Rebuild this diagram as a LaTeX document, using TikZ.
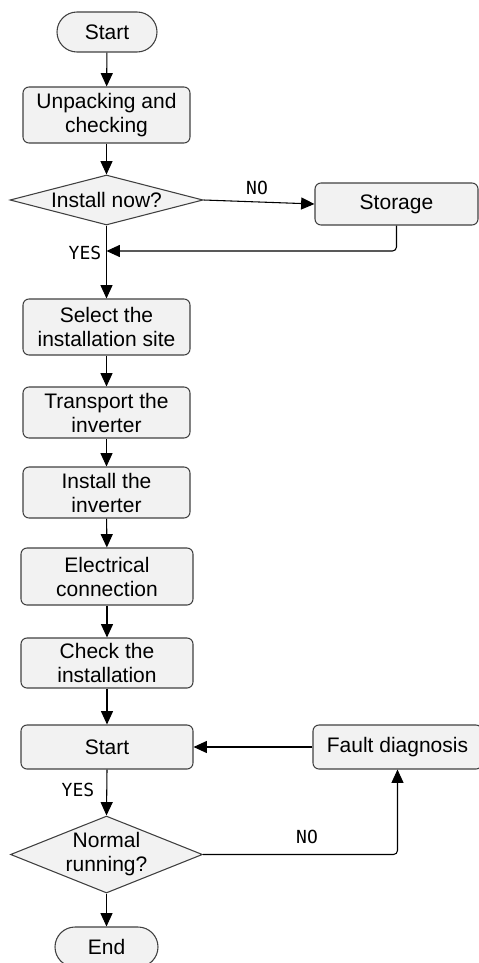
\documentclass[tikz,border=0pt]{standalone}
\usepackage{fontspec}
\setmainfont{Liberation Sans}
\newfontfamily\lblfont{DejaVu Sans Mono}
\usetikzlibrary{shapes.geometric,arrows.meta}
\definecolor{boxfill}{HTML}{F2F2F2}
\definecolor{linec}{HTML}{404040}
\begin{document}
\begin{tikzpicture}[x=0.75pt,y=-0.75pt,
  wh/.style 2 args={minimum width=#1*0.75pt, minimum height=#2*0.75pt},
  box/.style={draw=linec, fill=boxfill, line width=0.8pt, rounded corners=4.5pt, align=center, inner sep=0pt, font=\fontsize{15.75}{18}\selectfont},
  term/.style={box, rounded corners=15pt},
  dia/.style={draw=linec, fill=boxfill, line width=0.8pt, shape=diamond, inner sep=0pt},
  txt/.style={align=center, inner sep=0pt, font=\fontsize{15.75}{18}\selectfont},
  lbl/.style={inner sep=0pt, font=\lblfont\fontsize{13.5}{15}\selectfont},
  arr/.style={draw=black, line width=0.8pt, -{Triangle[length=10pt,width=9pt]}},
  ln/.style={draw=black, line width=0.8pt}]
\useasboundingbox (0,0) rectangle (478,963);

\node[term, wh={100}{40}] (s1) at (107,32) {Start};
\node[box, wh={167}{56}] (unp) at (106.5,115) {Unpacking and\\checking};
\node[dia, wh={193}{50}] (d1) at (106.5,200) {};
\node[txt] (d1t) at (d1) {Install now?};
\node[box, wh={163}{42}] (sto) at (396.5,204) {Storage};
\coordinate (j1) at (106.5,251);
\node[box, wh={167}{56}] (sel) at (106.5,327) {Select the\\installation site};
\node[box, wh={167}{51}] (tra) at (106.5,412.5) {Transport the\\inverter};
\node[box, wh={167}{51}] (ins) at (106.5,492.5) {Install the\\inverter};
\node[box, wh={172}{57}] (ele) at (107,576.5) {Electrical\\connection};
\node[box, wh={172}{50}] (chk) at (107,663) {Check the\\installation};
\node[box, wh={172}{44}] (s2) at (107,747) {Start};
\node[box, wh={169}{44}] (flt) at (397.5,747) {Fault diagnosis};
\node[dia, wh={192}{77}] (d2) at (106.5,854.5) {};
\node[txt] (d2t) at (d2) {Normal\\running?};
\node[term, wh={103}{40}] (end) at (106.5,947) {End};

\node[lbl] (no1) at (257,188) {NO};
\node[lbl] (yes1) at (85,253) {YES};
\node[lbl] (yes2) at (78,790) {YES};
\node[lbl] (no2) at (307,837) {NO};

\draw[arr] (s1) -- (unp);
\draw[arr] (unp) -- (d1.north);
\draw[arr] (d1.east) -- (sto.west);
\draw[arr, rounded corners=3pt] (sto.south) |- (j1);
\draw[arr] (d1.south) -- (sel.north);
\draw[arr] (sel) -- (tra);
\draw[arr] (tra) -- (ins);
\draw[arr] (ins) -- (ele);
\draw[arr] (ele) -- (chk);
\draw[arr] (chk) -- (s2);
\draw[arr] (flt.west) -- (s2.east);
\draw[arr] (s2.south) -- (d2.north);
\draw[arr, rounded corners=3pt] (d2.east) -| (flt.south);
\draw[arr] (d2.south) -- (end.north);
\end{tikzpicture}
\end{document}
